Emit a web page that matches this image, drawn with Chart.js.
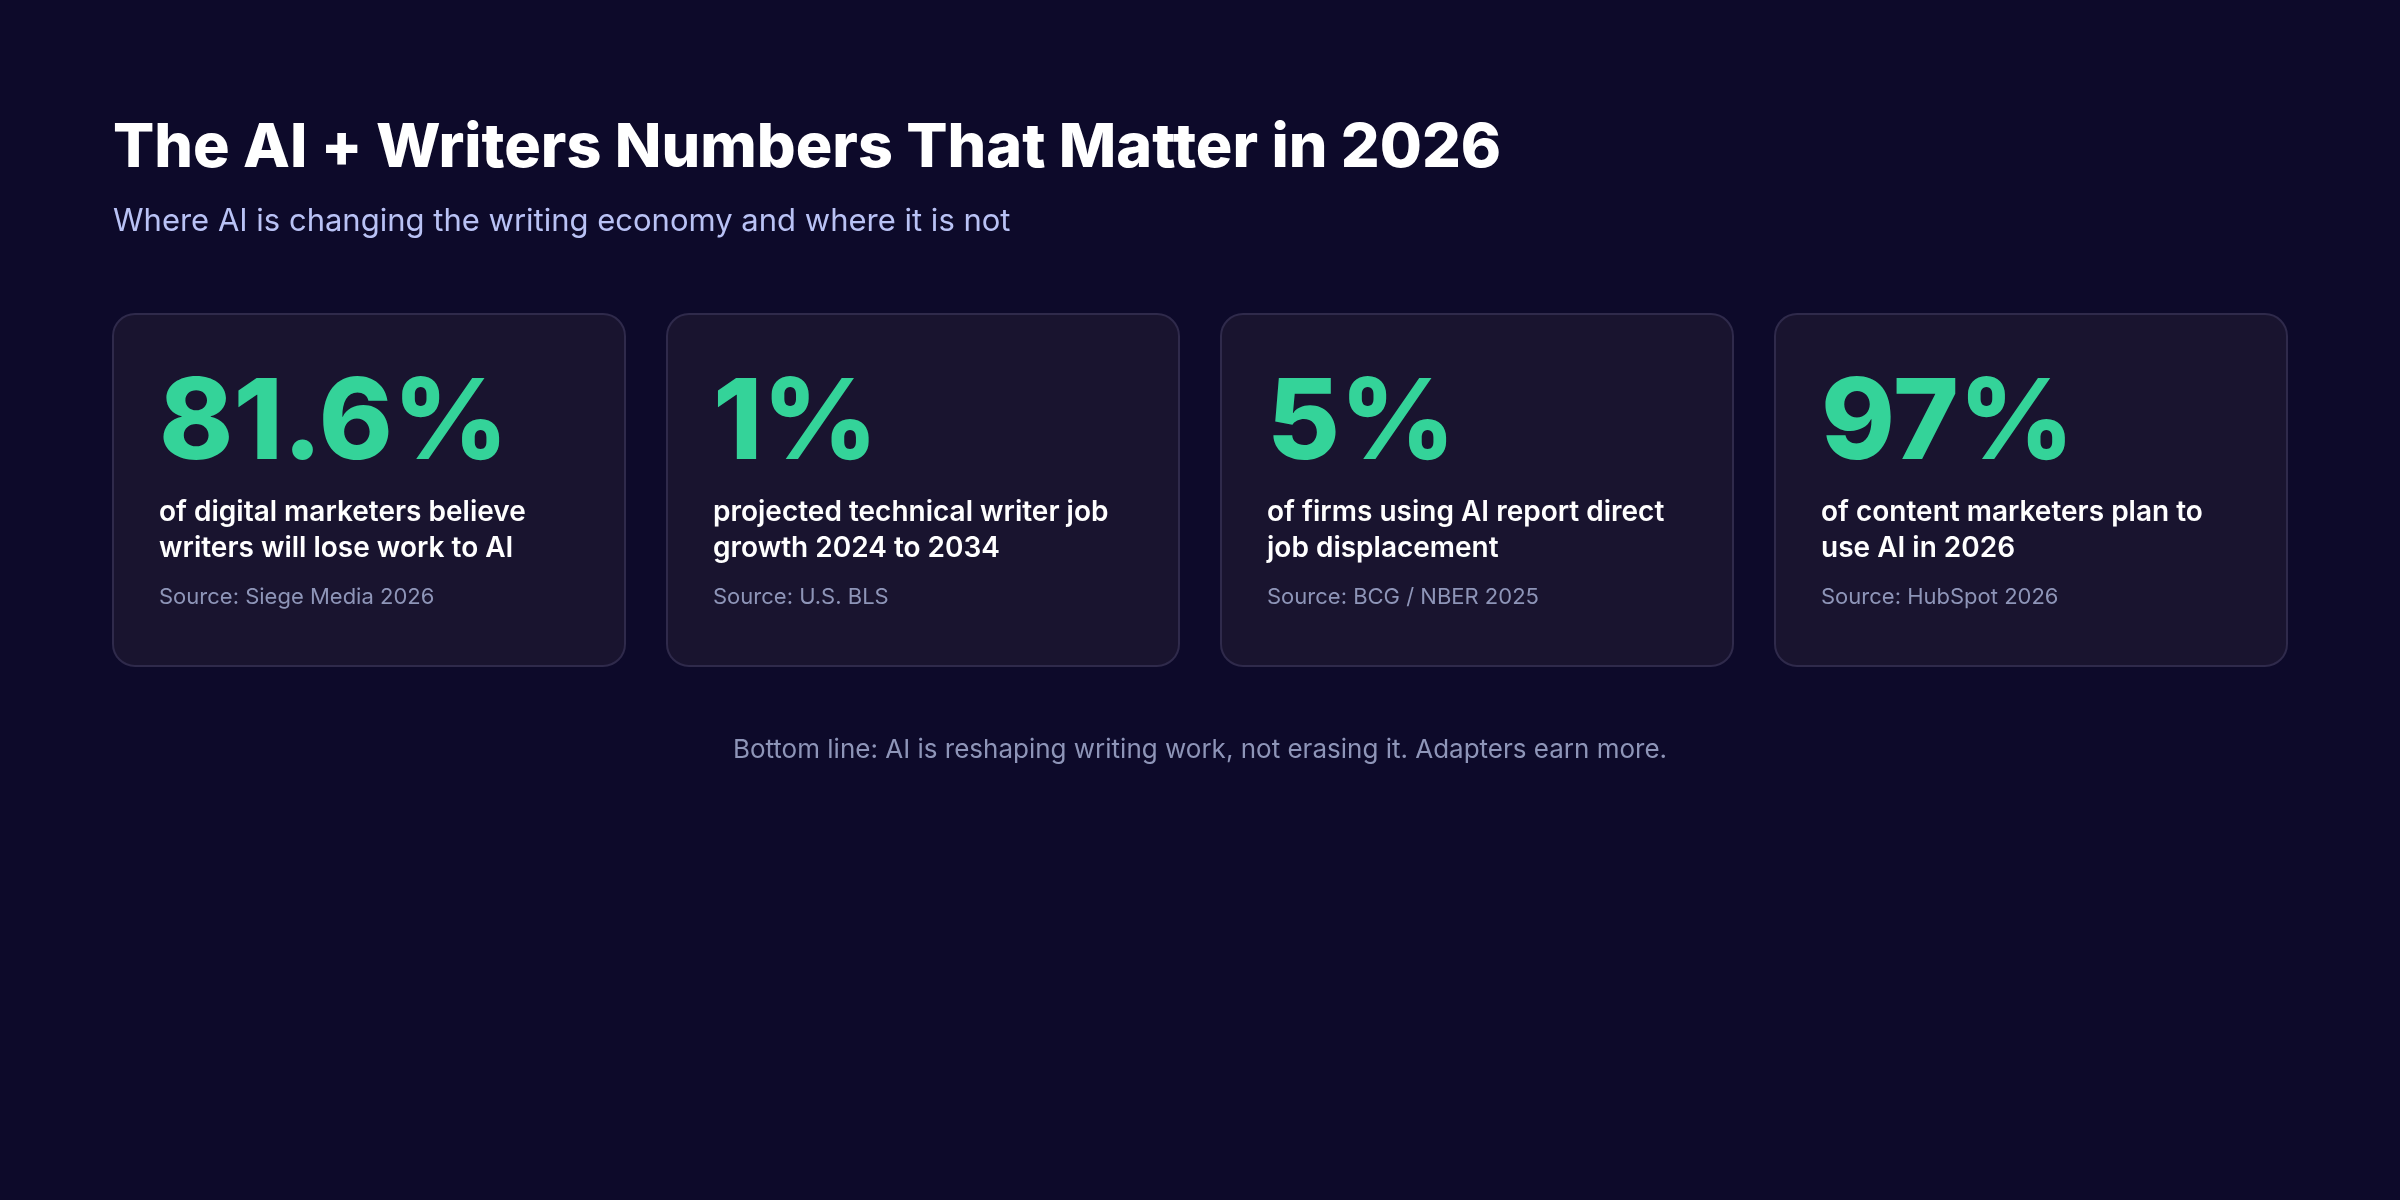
<!DOCTYPE html>
<html>
<head>
<meta charset="utf-8">
<script src="https://cdn.jsdelivr.net/npm/chart.js@4.4.1/dist/chart.umd.min.js"></script>
<style>
  html, body { margin: 0; padding: 0; background: #0d0a2a; }
  canvas { display: block; }
</style>
</head>
<body>
<canvas id="stats" width="2400" height="1200"></canvas>
<script>
// stat card data
const values = [81.6, 1, 5, 97];
const bigLabels = ['81.6%', '1%', '5%', '97%'];
const descriptions = [
  ['of digital marketers believe', 'writers will lose work to AI'],
  ['projected technical writer job', 'growth 2024 to 2034'],
  ['of firms using AI report direct', 'job displacement'],
  ['of content marketers plan to', 'use AI in 2026']
];
const sources = ['Source: Siege Media 2026', 'Source: U.S. BLS', 'Source: BCG / NBER 2025', 'Source: HubSpot 2026'];

const title = 'The AI + Writers Numbers That Matter in 2026';
const subtitle = 'Where AI is changing the writing economy and where it is not';
const footer = 'Bottom line: AI is reshaping writing work, not erasing it. Adapters earn more.';

function roundRect(ctx, x, y, w, h, r) {
  ctx.beginPath();
  ctx.moveTo(x + r, y);
  ctx.arcTo(x + w, y, x + w, y + h, r);
  ctx.arcTo(x + w, y + h, x, y + h, r);
  ctx.arcTo(x, y + h, x, y, r);
  ctx.arcTo(x, y, x + w, y, r);
  ctx.closePath();
}

// draws background, headings and the cards at the category positions
const cardsPlugin = {
  id: 'cards',
  beforeDraw(chart) {
    const ctx = chart.ctx;
    ctx.save();
    ctx.fillStyle = '#0d0a2a';
    ctx.fillRect(0, 0, chart.width, chart.height);
    ctx.restore();
  },
  afterDraw(chart) {
    const ctx = chart.ctx;
    const xs = chart.scales.x;
    ctx.save();
    ctx.textBaseline = 'alphabetic';
    ctx.textAlign = 'left';
    ctx.fillStyle = '#ffffff';
    ctx.font = '800 61px Inter';
    ctx.fillText(title, 113, 167);
    ctx.fillStyle = '#b9c2f5';
    ctx.font = '400 31px Inter';
    ctx.fillText(subtitle, 113, 231);

    const w = 512, top = 314, h = 352;
    values.forEach((v, i) => {
      const cx = xs.getPixelForValue(i);
      const x = cx - w / 2;
      roundRect(ctx, x, top, w, h, 22);
      ctx.fillStyle = '#19142f';
      ctx.fill();
      ctx.strokeStyle = '#2f2a4b';
      ctx.lineWidth = 2;
      ctx.stroke();

      ctx.fillStyle = '#34d399';
      ctx.font = '800 112px Inter';
      ctx.fillText(bigLabels[i], x + 46, 459);

      ctx.fillStyle = '#ffffff';
      ctx.font = '600 28px Inter';
      descriptions[i].forEach((line, j) => ctx.fillText(line, x + 46, 521 + j * 36));

      ctx.fillStyle = '#8e95b8';
      ctx.font = '400 22px Inter';
      ctx.fillText(sources[i], x + 46, 604);
    });

    ctx.textAlign = 'center';
    ctx.fillStyle = '#8e95b8';
    ctx.font = '400 26px Inter';
    ctx.fillText(footer, 1200, 758);
    ctx.restore();
  }
};

new Chart(document.getElementById('stats'), {
  type: 'bar',
  data: {
    labels: bigLabels,
    datasets: [{ data: values, backgroundColor: 'rgba(0,0,0,0)' }]
  },
  options: {
    responsive: false,
    animation: false,
    layout: { padding: { left: 92, right: 92, top: 314, bottom: 534 } },
    plugins: { legend: { display: false }, tooltip: { enabled: false } },
    scales: {
      x: { display: false, offset: true },
      y: { display: false, min: 0, max: 100 }
    }
  },
  plugins: [cardsPlugin]
});
</script>
</body>
</html>
